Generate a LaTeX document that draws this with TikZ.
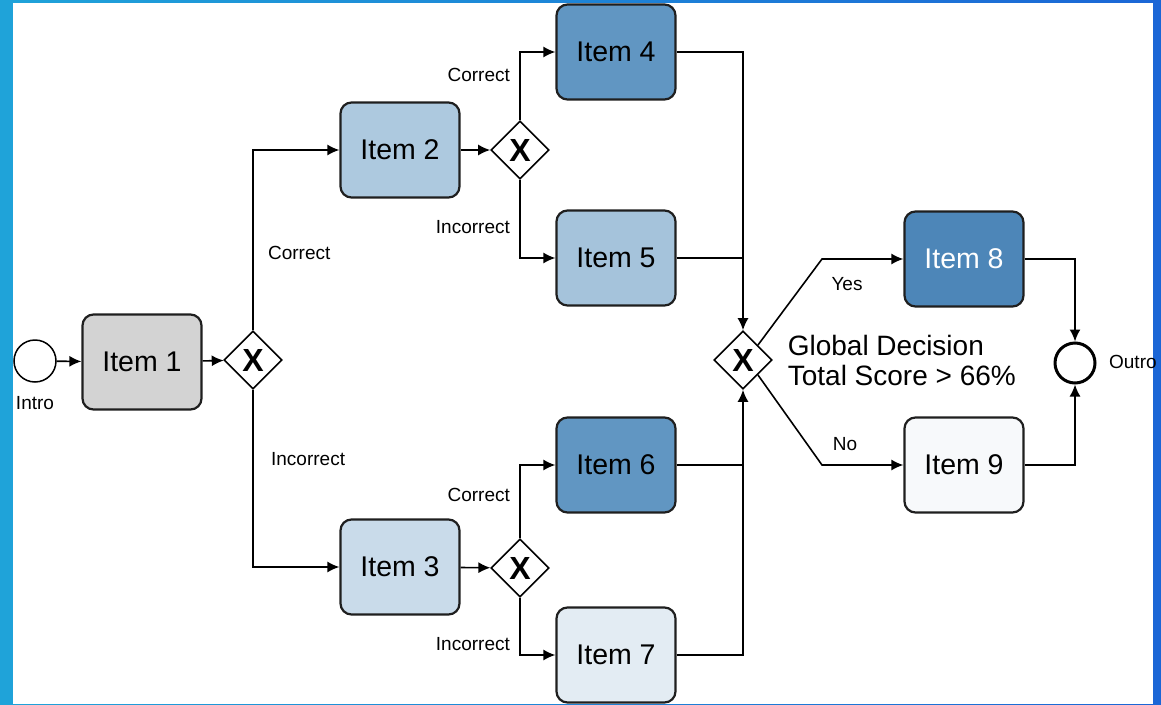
\documentclass[tikz,border=0pt]{standalone}
\usepackage{fontspec}
\setmainfont{Liberation Sans}
\usetikzlibrary {arrows.meta, positioning, shapes.geometric}
\definecolor{frameleft}{HTML}{1FA3D9}
\definecolor{frameright}{HTML}{1B66D6}
\definecolor{itemgray}{HTML}{D3D3D3}
\definecolor{itemlight}{HTML}{ADC9DF}
\definecolor{itemmid}{HTML}{A5C3DB}
\definecolor{itempale}{HTML}{C9DBEA}
\definecolor{itemdark}{HTML}{6196C2}
\definecolor{itemfaint}{HTML}{E3ECF3}
\definecolor{itemdeep}{HTML}{4D86B8}
\definecolor{itemwhite}{HTML}{F7F9FB}
\tikzset{
    >={Latex[length=12pt, width=11pt]}
}
\tikzset{
    item/.style={draw=black!88, line width=2.2pt, rounded corners=11pt,
        minimum width=119pt, minimum height=95pt,
        font=\fontsize{28.5}{30}\selectfont},
    gate/.style={draw, diamond, line width=1.6pt, minimum width=58pt,
        minimum height=58pt, inner sep=0pt, fill=white,
        font=\fontsize{32}{32}\selectfont\bfseries},
    event/.style={draw, circle, fill=white, inner sep=0pt},
    lbl/.style={font=\fontsize{19}{20}\selectfont},
}
\begin{document}
\begin{tikzpicture}[x=1pt, y=-1pt, line width=1.6pt]
    % frame
    \shade[left color=frameleft, right color=frameright] (0,0) rectangle (1161,704);
    \fill[white] (13,3) rectangle (1153,704);
    \useasboundingbox (0,0) rectangle (1161,704);
    % events and gateways
    \node[event, line width=1.5pt, minimum size=42pt] (intro) at (35,361) {};
    \node[event, line width=3pt, minimum size=40pt] (outro) at (1075,363) {};
    \node[gate] (gw1) at (253,360) {X};
    \node[gate] (gw2) at (520,150) {X};
    \node[gate] (gw3) at (520,568) {X};
    \node[gate] (gwg) at (743,360) {X};
    % items
    \node[item, fill=itemgray] (item1) at (142,362) {Item 1};
    \node[item, fill=itemlight] (item2) at (400,150) {Item 2};
    \node[item, fill=itempale] (item3) at (400,567) {Item 3};
    \node[item, fill=itemdark] (item4) at (616,52) {Item 4};
    \node[item, fill=itemmid] (item5) at (616,258) {Item 5};
    \node[item, fill=itemdark] (item6) at (616,465) {Item 6};
    \node[item, fill=itemfaint] (item7) at (616,655) {Item 7};
    \node[item, fill=itemdeep, text=white] (item8) at (964,259) {Item 8};
    \node[item, fill=itemwhite] (item9) at (964,465) {Item 9};
    \coordinate (yes) at (822,259);
    \coordinate (no) at (822,465);
    % flows
    \draw[->] (intro) -- (item1);
    \draw[->] (item1) -- (gw1);
    \draw[->] (gw1.north) |- (item2.west);
    \draw[->] (gw1.south) |- (item3.west);
    \draw[->] (item2) -- (gw2);
    \draw[->] (item3) -- (gw3);
    \draw[->] (gw2.north) |- (item4.west);
    \draw[->] (gw2.south) |- (item5.west);
    \draw[->] (gw3.north) |- (item6.west);
    \draw[->] (gw3.south) |- (item7.west);
    \draw[->] (item4.east) -| (gwg.north);
    \draw (item5.east) -- (item5.east -| gwg.north);
    \draw (item6.east) -- (item6.east -| gwg.south);
    \draw[->] (item7.east) -| (gwg.south);
    \draw[->] (gwg.north east) -- (yes) -- (item8.west);
    \draw[->] (gwg.south east) -- (no) -- (item9.west);
    \draw[->] (item8.east) -| (outro.north);
    \draw[->] (item9.east) -| (outro.south);
    % labels
    \node[lbl] at (35,403) {Intro};
    \node[lbl, anchor=west] at (1105,362) {Outro};
    \node[lbl, anchor=west] at (264,253) {Correct};
    \node[lbl, anchor=west] at (267,459) {Incorrect};
    \node[lbl, anchor=east] at (514,75) {Correct};
    \node[lbl, anchor=east] at (514,227) {Incorrect};
    \node[lbl, anchor=east] at (514,495) {Correct};
    \node[lbl, anchor=east] at (514,644) {Incorrect};
    \node[lbl] at (847,284) {Yes};
    \node[lbl] at (845,444) {No};
    \node[anchor=west, align=left, inner sep=0pt, font=\fontsize{28}{30}\selectfont]
        at (787,360) {Global Decision\\Total Score > 66\%};
\end{tikzpicture}
\end{document}
